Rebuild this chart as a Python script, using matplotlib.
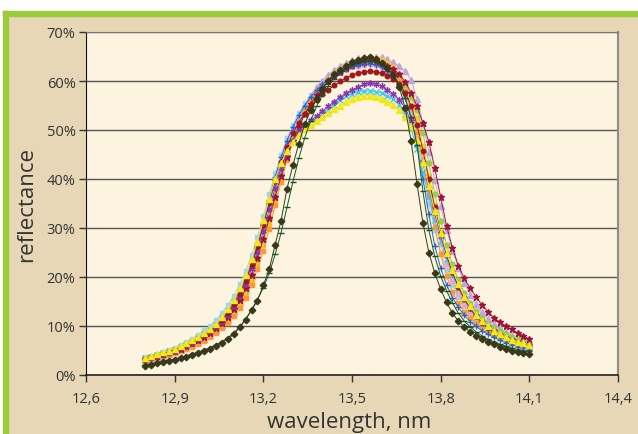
import numpy as np
import matplotlib.pyplot as plt
from matplotlib.patches import Rectangle
from matplotlib.ticker import FuncFormatter, MultipleLocator

plt.rcParams['font.family'] = ['Open Sans', 'DejaVu Sans']

# wavelength grid, nm (0.02 nm steps, 12.80 .. 14.10)
wavelength = np.round(np.arange(12.80, 14.101, 0.02), 2)

# reflectance, % (one list per sample)
dark = [1.9, 2.1, 2.4, 2.6, 2.9, 3.1, 3.4, 3.7, 4.1, 4.5, 4.9,
        5.4, 6.0, 6.6, 7.4, 8.3, 9.7, 11.3, 13.2, 15.2, 18.3, 21.6,
        26.6, 31.5, 38.0, 42.8, 47.2, 51.2, 54.0, 56.3, 58.4, 60.0, 61.4,
        62.3, 63.1, 63.8, 64.3, 64.7, 64.9, 64.5, 63.7, 62.6, 61.3, 58.8,
        54.4, 47.7, 39.0, 31.0, 25.0, 20.8, 17.5, 14.8, 12.6, 11.0, 9.8,
        8.8, 8.0, 7.3, 6.7, 6.3, 5.8, 5.3, 5.0, 4.7, 4.5, 4.3]
yellow = [3.5, 3.8, 4.2, 4.6, 5.0, 5.4, 5.9, 6.5, 7.1, 7.8, 8.6,
          9.4, 10.5, 11.8, 13.4, 15.4, 17.7, 20.4, 23.6, 27.2, 31.6, 36.0,
          40.0, 43.2, 45.8, 47.6, 49.0, 50.2, 51.1, 51.9, 52.7, 53.4, 54.2,
          55.0, 55.8, 56.4, 56.8, 57.0, 57.0, 56.8, 56.4, 55.8, 55.2, 54.1,
          52.6, 50.8, 48.0, 43.5, 38.5, 33.5, 29.0, 25.0, 21.5, 18.5, 16.0,
          14.0, 12.3, 11.0, 9.9, 9.0, 8.3, 7.7, 7.2, 6.8, 6.5, 6.2]
red = [3.3, 3.6, 3.9, 4.3, 4.7, 5.1, 5.6, 6.1, 6.7, 7.4, 8.1,
       9.0, 10.0, 11.2, 12.7, 14.5, 16.6, 19.2, 22.4, 26.2, 30.6, 35.2,
       39.6, 43.4, 46.6, 49.3, 51.5, 53.3, 54.9, 56.2, 57.3, 58.2, 59.1,
       59.9, 60.6, 61.2, 61.6, 61.9, 62.0, 61.9, 61.6, 61.1, 60.4, 59.3,
       57.6, 55.0, 51.0, 45.8, 40.0, 34.2, 29.0, 24.6, 21.0, 18.0, 15.6,
       13.6, 12.0, 10.7, 9.6, 8.8, 8.1, 7.5, 7.0, 6.6, 6.3, 6.0]
purple = [3.2, 3.5, 3.8, 4.2, 4.6, 5.0, 5.5, 6.0, 6.6, 7.2, 7.9,
          8.7, 9.7, 10.9, 12.3, 14.0, 16.1, 18.6, 21.6, 25.2, 29.4, 33.8,
          38.2, 42.2, 45.4, 47.8, 49.7, 51.0, 52.0, 52.8, 53.8, 54.8, 55.8,
          56.7, 57.5, 58.2, 58.8, 59.3, 59.6, 59.4, 58.9, 58.2, 57.4, 56.2,
          54.4, 51.8, 48.0, 43.4, 38.2, 33.0, 28.4, 24.4, 21.0, 18.1, 15.7,
          13.7, 12.1, 10.8, 9.7, 8.9, 8.2, 7.6, 7.1, 6.7, 6.4, 6.1]
cyan = [3.4, 3.7, 4.0, 4.4, 4.8, 5.2, 5.7, 6.2, 6.8, 7.5, 8.3,
        9.2, 10.2, 11.5, 13.0, 14.8, 17.0, 19.6, 22.7, 26.4, 30.6, 35.0,
        39.2, 42.8, 45.6, 47.7, 49.3, 50.5, 51.5, 52.4, 53.2, 54.1, 55.2,
        56.2, 56.9, 57.4, 57.7, 57.9, 58.0, 57.8, 57.5, 57.0, 56.3, 55.2,
        53.2, 50.2, 46.2, 41.4, 36.4, 31.6, 27.4, 23.6, 20.4, 17.6, 15.3,
        13.4, 11.8, 10.5, 9.5, 8.7, 8.0, 7.4, 6.9, 6.5, 6.2, 5.9]
maroon = [3.3, 3.6, 3.9, 4.2, 4.6, 5.0, 5.4, 5.9, 6.5, 7.1, 7.8,
          8.6, 9.5, 10.6, 11.9, 13.5, 15.4, 17.7, 20.5, 23.9, 27.8, 32.0,
          36.4, 40.6, 44.4, 47.8, 50.7, 53.2, 55.3, 57.1, 58.6, 59.9, 61.0,
          61.9, 62.6, 63.2, 63.6, 63.9, 64.0, 63.9, 63.6, 63.1, 62.4, 61.4,
          59.8, 57.6, 54.8, 51.4, 47.6, 42.2, 36.3, 30.4, 25.9, 22.3, 19.7,
          17.7, 15.9, 14.3, 12.9, 11.7, 10.8, 10.0, 9.3, 8.6, 8.0, 7.3]
light_blue = [3.6, 3.9, 4.3, 4.7, 5.1, 5.6, 6.1, 6.7, 7.4, 8.2, 9.1,
              10.1, 11.3, 12.7, 14.3, 16.2, 18.5, 21.2, 24.4, 28.2, 32.4, 36.9,
              41.2, 45.0, 48.3, 51.1, 53.5, 55.5, 57.2, 58.6, 59.8, 60.8, 61.7,
              62.5, 63.1, 63.6, 64.0, 64.3, 64.5, 64.3, 63.8, 63.0, 62.0, 60.3,
              57.6, 53.4, 47.6, 41.2, 35.0, 29.6, 25.0, 21.4, 18.4, 16.0, 14.0,
              12.4, 11.1, 10.0, 9.1, 8.4, 7.8, 7.3, 6.9, 6.5, 6.2, 5.9]
orange = [2.9, 3.2, 3.5, 3.8, 4.1, 4.5, 4.9, 5.3, 5.8, 6.4, 7.0,
          7.7, 8.5, 9.5, 10.6, 12.0, 13.7, 15.8, 18.4, 21.6, 25.4, 29.8,
          34.6, 39.4, 43.8, 47.6, 50.8, 53.5, 55.7, 57.5, 59.0, 60.3, 61.4,
          62.3, 63.0, 63.6, 64.0, 64.3, 64.4, 64.2, 63.7, 62.9, 61.8, 60.2,
          57.9, 54.6, 49.6, 43.4, 36.8, 30.2, 24.6, 20.2, 16.9, 14.6, 12.9,
          11.7, 10.7, 9.8, 9.0, 8.2, 7.5, 7.0, 6.6, 6.2, 5.9, 5.6]
blue = [3.1, 3.4, 3.7, 4.1, 4.5, 4.9, 5.4, 5.9, 6.5, 7.2, 8.0,
        8.9, 9.9, 11.1, 12.6, 14.4, 16.6, 19.3, 22.6, 26.5, 31.0, 35.8,
        40.4, 44.4, 47.8, 50.6, 53.0, 55.0, 56.7, 58.1, 59.3, 60.3, 61.2,
        61.9, 62.5, 63.0, 63.3, 63.5, 63.5, 63.3, 62.8, 62.0, 60.9, 59.2,
        56.5, 52.5, 46.8, 40.0, 32.8, 26.4, 21.8, 18.4, 15.8, 13.8, 12.2,
        10.9, 9.9, 9.0, 8.3, 7.7, 7.1, 6.6, 6.2, 5.8, 5.5, 5.2]
lavender = [3.0, 3.3, 3.6, 3.9, 4.3, 4.7, 5.1, 5.6, 6.1, 6.7, 7.4,
            8.2, 9.1, 10.2, 11.5, 13.1, 15.0, 17.4, 20.3, 23.8, 27.8, 32.3,
            37.0, 41.6, 45.8, 49.4, 52.4, 54.9, 57.0, 58.7, 60.1, 61.3, 62.3,
            63.1, 63.7, 64.2, 64.6, 64.8, 65.0, 65.0, 64.8, 64.4, 63.8, 63.0,
            62.0, 60.2, 56.4, 51.4, 45.6, 39.8, 34.4, 29.6, 25.4, 21.8, 18.8,
            16.4, 14.4, 12.8, 11.5, 10.4, 9.5, 8.8, 8.2, 7.7, 7.2, 6.8]
dark_green = [2.1, 2.3, 2.5, 2.8, 3.0, 3.3, 3.6, 3.9, 4.3, 4.7, 5.1,
              5.6, 6.2, 6.8, 7.6, 8.6, 9.8, 11.4, 13.3, 15.4, 17.8, 20.8,
              24.6, 29.0, 34.2, 39.4, 44.2, 48.4, 51.9, 54.8, 57.2, 59.0, 60.5,
              61.6, 62.5, 63.2, 63.7, 64.0, 64.1, 63.9, 63.3, 62.4, 61.2, 59.3,
              56.5, 52.6, 47.0, 37.5, 29.6, 24.2, 20.2, 17.2, 14.7, 12.6, 11.0,
              9.8, 8.8, 8.0, 7.3, 6.8, 6.3, 5.9, 5.5, 5.2, 5.0, 4.8]
gold = [3.0, 3.3, 3.6, 3.9, 4.3, 4.7, 5.1, 5.6, 6.1, 6.7, 7.3,
        8.0, 8.9, 9.9, 11.1, 12.6, 14.4, 16.6, 19.3, 22.6, 26.5, 30.9,
        35.6, 40.2, 44.4, 48.0, 51.1, 53.7, 55.9, 57.7, 59.2, 60.5, 61.6,
        62.5, 63.2, 63.8, 64.3, 64.6, 64.8, 64.7, 64.3, 63.7, 62.8, 61.5,
        59.5, 56.6, 52.4, 46.8, 40.6, 34.6, 29.2, 24.6, 20.8, 17.8, 15.4,
        13.4, 11.8, 10.6, 9.6, 8.8, 8.1, 7.5, 7.0, 6.6, 6.3, 6.0]
light_green = [3.2, 3.5, 3.8, 4.1, 4.5, 4.9, 5.3, 5.8, 6.4, 7.0, 7.7,
               8.5, 9.4, 10.5, 11.8, 13.4, 15.3, 17.6, 20.4, 23.8, 27.7, 32.0,
               36.5, 40.9, 44.9, 48.4, 51.4, 53.9, 56.0, 57.7, 59.1, 60.3, 61.3,
               62.1, 62.8, 63.3, 63.7, 63.9, 64.0, 63.9, 63.6, 63.0, 62.2, 61.0,
               59.2, 56.9, 54.0, 49.4, 43.2, 37.0, 31.4, 26.6, 22.6, 19.4, 16.8,
               14.7, 13.0, 11.6, 10.5, 9.6, 8.9, 8.3, 7.8, 7.3, 6.9, 6.6]
pink = [3.4, 3.7, 4.0, 4.4, 4.8, 5.3, 5.8, 6.3, 7.0, 7.7, 8.5,
        9.4, 10.5, 11.8, 13.3, 15.1, 17.3, 19.9, 23.0, 26.7, 30.9, 35.3,
        39.6, 43.5, 46.9, 49.8, 52.3, 54.4, 56.2, 57.7, 58.9, 60.0, 60.9,
        61.7, 62.3, 62.8, 63.1, 63.3, 63.4, 63.2, 62.8, 62.1, 61.1, 59.6,
        57.4, 54.2, 49.8, 44.0, 37.8, 31.8, 26.8, 22.6, 19.2, 16.5, 14.3,
        12.6, 11.2, 10.1, 9.2, 8.5, 7.9, 7.4, 6.9, 6.5, 6.2, 5.9]

x_ticks = [12.6, 12.9, 13.2, 13.5, 13.8, 14.1, 14.4]

W, H = 638, 435
fig = plt.figure(figsize=(W / 100, H / 100), dpi=100, facecolor='#e7d7b6')

# frame: white strip + green band at top and left
fig.patches.append(Rectangle((0, 1 - 12 / H), 1, 12 / H, transform=fig.transFigure,
                             color='white', zorder=0))
fig.patches.append(Rectangle((0, 0), 3 / W, 1, transform=fig.transFigure,
                             color='white', zorder=0))
fig.patches.append(Rectangle((3 / W, 1 - 17 / H), 1, 5 / H, transform=fig.transFigure,
                             color='#9ccc3c', zorder=1))
fig.patches.append(Rectangle((3 / W, 0), 5 / W, 1 - 12 / H, transform=fig.transFigure,
                             color='#9ccc3c', zorder=1))

ax = fig.add_axes([86 / W, 1 - 376 / H, 532 / W, 343 / H])
ax.set_facecolor('#fdf4df')

styles = [
    (light_blue, '#9fd4f2', 's', 3.3),
    (pink, '#f2a0cf', 's', 3.3),
    (lavender, '#bea6dc', '^', 3.8),
    (gold, '#ffc824', 's', 3.3),
    (light_green, '#98cc55', 'o', 3.5),
    (orange, '#ff9830', 's', 3.3),
    (maroon, '#a0103a', '*', 4.5),
    (blue, '#2a62c8', '+', 4.5),
    (cyan, '#3cc8ea', 'x', 3.8),
    (purple, '#8a38b0', (6, 2, 0), 4.5),
    (red, '#a01818', 'o', 3.3),
    (yellow, '#f2e818', '^', 4.0),
    (dark_green, '#0f5a2a', '_', 5.0),
    (dark, '#38381a', 'D', 3.3),
]
for vals, col, mk, size in styles:
    ax.plot(wavelength, vals, color=col, lw=0.7, marker=mk, ms=size,
            mfc=col, mec=col, mew=1.0)

ax.set_xlim(12.6, 14.4)
ax.set_ylim(0, 70)
ax.set_xticks(x_ticks)
ax.yaxis.set_major_locator(MultipleLocator(10))
ax.xaxis.set_major_formatter(FuncFormatter(lambda v, p: f'{v:.1f}'.replace('.', ',')))
ax.yaxis.set_major_formatter(FuncFormatter(lambda v, p: f'{v:.0f}%'))
ax.yaxis.grid(True, color='#555555', lw=1)
ax.set_axisbelow(True)

ax.spines['top'].set_color('#777777')
ax.spines['right'].set_color('#8c8c8c')
ax.spines['right'].set_linewidth(1.5)
ax.spines['left'].set_color('#111111')
ax.spines['bottom'].set_color('#222222')
ax.spines['bottom'].set_linewidth(1.2)
ax.tick_params(axis='both', direction='out', length=5, width=1, color='#333333',
               labelcolor='#333333', labelsize=10.5)
ax.tick_params(axis='x', pad=6.5)
ax.tick_params(axis='y', pad=2.5)

fig.text(27 / W, 1 - 205 / H, 'reflectance', rotation=90, ha='center', va='center',
         fontsize=16, color='#333333')
fig.text(349 / W, 1 - 423 / H, 'wavelength, nm', ha='center', va='center',
         fontsize=16, color='#333333')

fig.savefig('out.png', dpi=100, facecolor=fig.get_facecolor())
